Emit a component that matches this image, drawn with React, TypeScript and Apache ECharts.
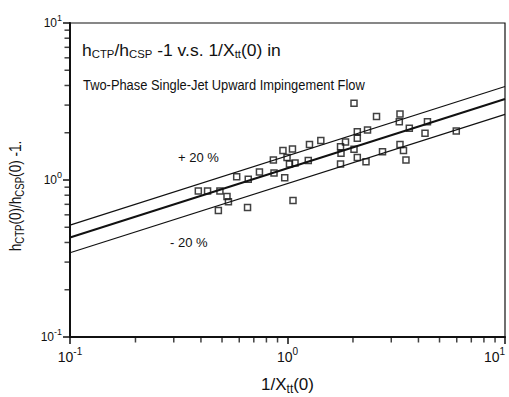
import React, { useEffect, useRef } from "react";
import * as echarts from "echarts";

// Experimental points: 1/Xtt(0) and hCTP(0)/hCSP(0) - 1
const pointX = [0.389, 0.429, 0.489, 0.527, 0.535, 0.481, 0.655, 0.584, 0.66, 0.743, 0.867, 0.971, 0.861, 0.953, 1.054, 0.995, 1.021, 1.083, 1.246, 1.262, 1.423, 1.06, 1.753, 1.762, 1.848, 1.753, 2.022, 2.094, 2.094, 2.094, 2.333, 2.296, 2.022, 2.566, 3.29, 3.266, 3.631, 4.4, 4.288, 5.97, 3.29, 3.414, 3.505, 2.734];
const pointY = [0.851, 0.851, 0.851, 0.785, 0.727, 0.639, 0.668, 1.05, 1.01, 1.124, 1.108, 1.034, 1.341, 1.541, 1.576, 1.391, 1.264, 1.283, 1.331, 1.683, 1.785, 0.74, 1.63, 1.479, 1.746, 1.264, 1.569, 2.03, 1.844, 1.391, 2.082, 1.308, 3.08, 2.538, 2.632, 2.351, 2.134, 2.351, 1.984, 2.051, 1.683, 1.541, 1.341, 1.515];

// Correlation line and +/- 20 % band (end points)
const lineX = [0.1, 10];
const fitY = [0.43, 3.28];
const upperY = [0.516, 3.94];
const lowerY = [0.344, 2.62];

// Minor (log) tick values
const minorX = [0.2, 0.3, 0.4, 0.5, 0.6, 0.7, 0.8, 0.9, 2, 3, 4, 5, 6, 7, 8, 9];
const minorY = [0.2, 0.3, 0.4, 0.5, 0.6, 0.7, 0.8, 0.9, 2, 3, 4, 5, 6, 7, 8, 9];

const FONT = "'Liberation Sans Narrow','Liberation Sans',Arial,sans-serif";
const INK = "#111";

const supLabel = (v: number) => {
  const e = Math.round(Math.log10(v));
  return `{b|10}{p|${e}}`;
};
const xLabelRich = {
  b: { fontSize: 14, fontFamily: FONT, color: INK },
  p: { fontSize: 10, fontFamily: FONT, color: INK, padding: [0, 0, 11, 0] },
};
const yLabelRich = {
  b: { fontSize: 12, fontFamily: FONT, color: INK },
  p: { fontSize: 9, fontFamily: FONT, color: INK, padding: [0, 0, 10, 0] },
};

export default function App() {
  const ref = useRef<HTMLDivElement>(null);
  useEffect(() => {
    if (!ref.current) return;
    const chart = echarts.init(ref.current, undefined, { renderer: "svg" });
    const pts = pointX.map((x, i) => [x, pointY[i]]);
    const mk = (ys: number[]) => lineX.map((x, i) => [x, ys[i]]);
    chart.setOption({
      animation: false,
      backgroundColor: "#fff",
      grid: {
        left: 70, right: 4, top: 23, bottom: 60,
        outerBoundsMode: "none",
        containLabel: false,
        show: true, borderColor: INK, borderWidth: 1.2, backgroundColor: "transparent",
      },
      xAxis: {
        type: "log",
        logBase: 10,
        min: 0.1,
        max: 10,
        splitLine: { show: false },
        axisLine: { show: true, lineStyle: { color: INK, width: 2 } },
        axisTick: { show: true, inside: false, length: 7, lineStyle: { color: INK, width: 1.5 } },
        axisLabel: { formatter: supLabel, rich: xLabelRich, margin: 9, showMinLabel: true, showMaxLabel: true, alignMaxLabel: "right", hideOverlap: false },
        name: "{m|1/X}{s|tt}{m|(0)}",
        nameLocation: "middle",
        nameGap: 37,
        nameTextStyle: {
          rich: {
            m: { fontSize: 17, fontFamily: FONT, color: INK },
            s: { fontSize: 12, fontFamily: FONT, color: INK, padding: [9, 0, 0, 0] },
          },
        },
      },
      yAxis: {
        type: "log",
        logBase: 10,
        min: 0.1,
        max: 10,
        splitLine: { show: false },
        axisLine: { show: true, lineStyle: { color: INK, width: 2 } },
        axisTick: { show: true, inside: false, length: 7, lineStyle: { color: INK, width: 1.5 } },
        axisLabel: { formatter: supLabel, rich: yLabelRich, margin: 8, showMinLabel: true, showMaxLabel: true },
      },
      graphic: [
        {
          type: "text",
          x: 82,
          y: 40,
          scaleX: 1.03,
          style: {
            text: "{m|h}{s|CTP}{m|/h}{s|CSP}{m| -1 v.s. 1/X}{s|tt}{m|(0) in}",
            fill: INK,
            rich: {
              m: { fontSize: 17, fontFamily: FONT, fill: INK },
              s: { fontSize: 11, fontFamily: FONT, fill: INK, padding: [9, 0, 0, 0] },
            },
          },
        },
        {
          type: "text",
          x: 83,
          y: 78,
          scaleX: 0.92,
          style: { text: "Two-Phase Single-Jet Upward Impingement Flow", fontSize: 14, fontFamily: FONT, fill: INK },
        },
        {
          type: "text",
          x: 178,
          y: 151,
          style: { text: "+ 20 %", fontSize: 13, fontFamily: FONT, fill: INK },
        },
        {
          type: "text",
          x: 170,
          y: 236,
          style: { text: "- 20 %", fontSize: 13, fontFamily: FONT, fill: INK },
        },
        {
          type: "text",
          x: 15,
          y: 196,
          rotation: Math.PI / 2,
          scaleX: 0.8,
          style: {
            text: "{m|h}{s|CTP}{m|(0)/h}{s|CSP}{m|(0) -1.}",
            align: "center",
            verticalAlign: "middle",
            fill: INK,
            rich: {
              m: { fontSize: 17, fontFamily: FONT, fill: INK },
              s: { fontSize: 12, fontFamily: FONT, fill: INK, padding: [9, 0, 0, 0] },
            },
          },
        },
      ],
      series: [
        { type: "line", data: mk(upperY), symbol: "none", lineStyle: { color: INK, width: 1.2 } },
        { type: "line", data: mk(fitY), symbol: "none", lineStyle: { color: INK, width: 2 } },
        { type: "line", data: mk(lowerY), symbol: "none", lineStyle: { color: INK, width: 1.2 } },
        {
          type: "scatter",
          data: pts,
          symbol: "rect",
          symbolSize: 6,
          itemStyle: { color: "rgba(255,255,255,0)", borderColor: INK, borderWidth: 1.5 },
          z: 5,
        },
        {
          type: "scatter",
          data: minorX.map((v) => [v, 0.1]),
          symbol: "rect",
          symbolSize: [1.5, 5],
          symbolOffset: [0, 3],
          itemStyle: { color: INK },
          clip: false,
          silent: true,
          z: 10,
        },
        {
          type: "scatter",
          data: minorY.map((v) => [0.1, v]),
          symbol: "rect",
          symbolSize: [5, 1.5],
          symbolOffset: [-3, 0],
          itemStyle: { color: INK },
          clip: false,
          silent: true,
          z: 10,
        },
      ],
    });
    return () => chart.dispose();
  }, []);
  return <div ref={ref} style={{ position: "fixed", left: 0, top: 0, width: 509, height: 397 }} />;
}
